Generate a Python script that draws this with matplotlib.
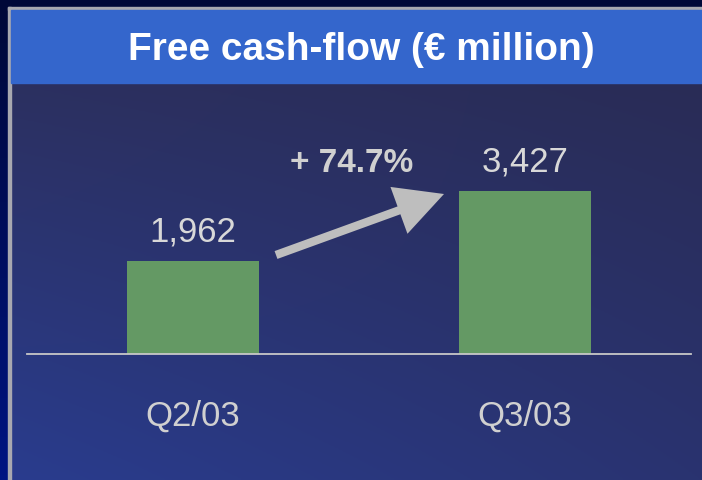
import numpy as np
import matplotlib
matplotlib.use("Agg")
import matplotlib.pyplot as plt
from matplotlib.patches import Rectangle
from matplotlib import font_manager as fm

categories = ["Q2/03", "Q3/03"]
values = [1962, 3427]
value_labels = ["1,962", "3,427"]
change_label = "+ 74.7%"
title = "Free cash-flow (€ million)"

names = {f.name for f in fm.fontManager.ttflist}
narrow = "Liberation Sans Narrow" if "Liberation Sans Narrow" in names else "Liberation Sans"
FAM = [narrow, "DejaVu Sans"]

W, H = 702, 480
fig = plt.figure(figsize=(W / 100, H / 100), dpi=100)

# background layer in pixel coordinates
bg = fig.add_axes([0, 0, 1, 1])
bg.set_xlim(0, W)
bg.set_ylim(H, 0)
bg.axis("off")
# outer frame
bg.add_patch(Rectangle((0, 0), W, H, color="#000838", zorder=0))
left_strip = np.linspace(0, 1, 100).reshape(-1, 1)
c_top = np.array([0x00, 0x08, 0x38]) / 255
c_bot = np.array([0x00, 0x14, 0x82]) / 255
strip = c_top + (c_bot - c_top) * left_strip[..., None]
bg.imshow(strip, extent=(0, 8, H, 0), aspect="auto", zorder=1)
# body gradient
tl = np.array([0x2C, 0x30, 0x60]) / 255
tr = np.array([0x29, 0x2C, 0x56]) / 255
bl = np.array([0x29, 0x3C, 0x8E]) / 255
br = np.array([0x2A, 0x33, 0x70]) / 255
u = np.linspace(0, 1, 200)[None, :, None]
v = np.linspace(0, 1, 200)[:, None, None]
grad = (tl * (1 - u) * (1 - v) + tr * u * (1 - v) + bl * (1 - u) * v + br * u * v)
bg.imshow(grad, extent=(10, W, H, 83), aspect="auto", zorder=1)
# frame lines
bg.add_patch(Rectangle((8, 7), W - 8, 3, color="#A8A8B0", zorder=2))
bg.add_patch(Rectangle((8, 7), 3, H - 7, color="#A8A8B0", zorder=2))
# title banner
bg.add_patch(Rectangle((11, 10), W - 11, 73, color="#3466CC", zorder=3))
bg.text(361, 50, title, color="white", fontsize=28, fontweight="bold",
        family=FAM, ha="center", va="center", zorder=4)

# chart axes
ax = fig.add_axes([27 / W, (H - 354) / H, (691 - 27) / W, 254 / H])
ax.patch.set_alpha(0)
x = np.arange(len(categories))
ax.bar(x, values, width=0.4, color="#649964", zorder=2)
ax.set_xlim(-0.5, 1.5)
ax.set_ylim(0, 254 * 21.05)
for s in ax.spines.values():
    s.set_visible(False)
ax.set_xticks([])
ax.set_yticks([])
ax.axhline(0, color="#C8C8C8", lw=1.3, zorder=3, clip_on=False)

for xi, v, lab in zip(x, values, value_labels):
    ax.annotate(lab, xy=(xi, v), xytext=(0, 29 * 0.72), textcoords="offset points",
                ha="center", va="center", fontsize=25, color="#D8D8D8", family=FAM)
for xi, lab in zip(x, categories):
    ax.annotate(lab, xy=(xi, 0), xytext=(0, -62 * 0.72), textcoords="offset points",
                ha="center", va="center", fontsize=25, color="#D0D0D0", family=FAM)

# growth arrow and label (axes fraction)
def px(xp, yp):
    return ((xp - 27) / 664, (354 - yp) / 254)

ax.annotate("", xy=px(444, 194), xytext=px(276, 255), xycoords="axes fraction",
            textcoords="axes fraction",
            arrowprops=dict(arrowstyle="-|>,head_length=2.5,head_width=1.3",
                            color="#BEBEBE", lw=6, shrinkA=0, shrinkB=0,
                            capstyle="butt", joinstyle="miter"))
ax.text(*px(352, 164), change_label, transform=ax.transAxes, ha="center", va="center",
        fontsize=24, fontweight="bold", color="#D0D0D0", family=FAM)

fig.savefig("out.png", dpi=100)
